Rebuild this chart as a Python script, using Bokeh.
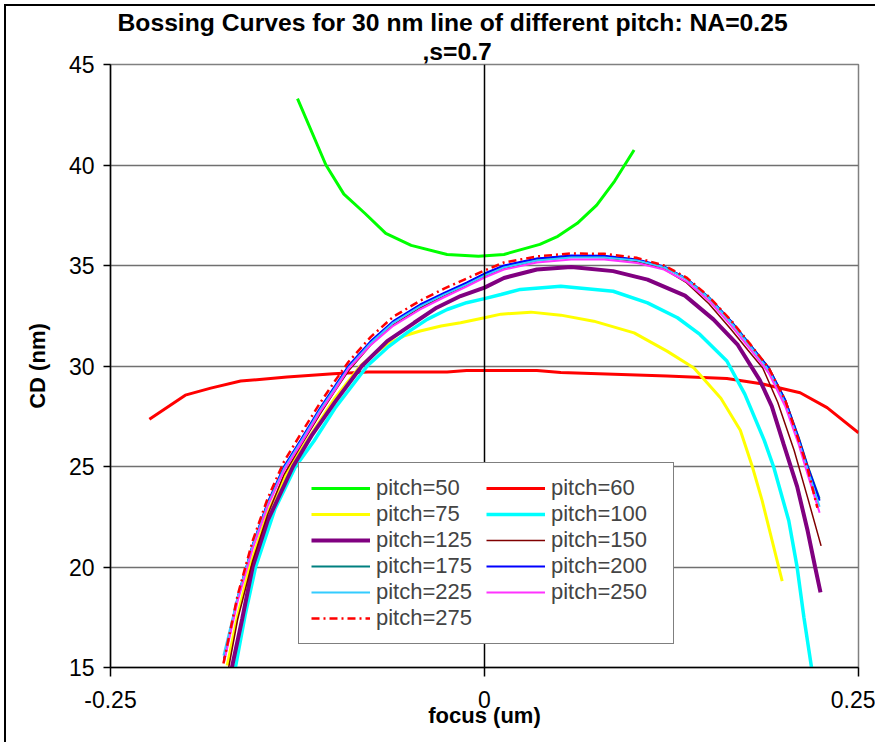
from bokeh.plotting import figure
from bokeh.models import Legend, LegendItem, Span, Title, FixedTicker, Range1d
from bokeh.embed import file_html
from bokeh.resources import INLINE

FONT = "Liberation Sans"

# ---------------- data ----------------
focus_50 = [-0.125, -0.106, -0.094, -0.080, -0.066, -0.049, -0.025, -0.004, 0.013, 0.037, 0.049, 0.062, 0.075, 0.087, 0.100]
cd_50 = [43.3, 40.0, 38.55, 37.6, 36.6, 36.0, 35.55, 35.46, 35.55, 36.05, 36.45, 37.1, 38.0, 39.2, 40.75]

focus_60 = [-0.224, -0.200, -0.183, -0.163, -0.132, -0.101, -0.078, -0.025, -0.012, 0.011, 0.035, 0.051, 0.122, 0.162, 0.185, 0.211, 0.229, 0.250]
cd_60 = [27.35, 28.55, 28.9, 29.25, 29.45, 29.62, 29.7, 29.7, 29.78, 29.78, 29.78, 29.68, 29.5, 29.38, 29.12, 28.67, 27.93, 26.68]

focus_75 = [-0.172, -0.165, -0.157, -0.145, -0.130, -0.115, -0.100, -0.083, -0.074, -0.065, -0.054, -0.043, -0.029, -0.016, 0.000, 0.011, 0.031, 0.051, 0.073, 0.100, 0.122, 0.140, 0.158, 0.171, 0.179, 0.1856, 0.1923, 0.199]
cd_75 = [15.1, 17.6, 20.0, 22.7, 25.0, 26.7, 28.4, 30.0, 30.58, 31.08, 31.49, 31.74, 31.99, 32.15, 32.4, 32.58, 32.68, 32.53, 32.23, 31.65, 30.74, 29.9, 28.4, 26.8, 25.0, 23.3, 21.3, 19.3]

focus_100 = [-0.1665, -0.160, -0.153, -0.140, -0.1263, -0.114, -0.100, -0.0784, -0.065, -0.0517, -0.0383, -0.025, -0.012, 0.000, 0.011, 0.024, 0.051, 0.086, 0.109, 0.129, 0.144, 0.162, 0.174, 0.187, 0.1934, 0.2034, 0.209, 0.2135, 0.2186]
cd_100 = [15.0, 17.6, 20.0, 22.9, 25.0, 26.27, 27.9, 30.0, 30.91, 31.66, 32.32, 32.81, 33.15, 33.35, 33.56, 33.81, 33.97, 33.72, 33.14, 32.4, 31.57, 30.25, 28.6, 26.3, 24.95, 22.3, 19.98, 17.5, 15.0]

focus_125 = [-0.170, -0.162, -0.155, -0.145, -0.128, -0.115, -0.100, -0.082, -0.065, -0.047, -0.032, -0.016, 0.000, 0.013, 0.035, 0.058, 0.086, 0.109, 0.134, 0.153, 0.169, 0.184, 0.192, 0.200, 0.209, 0.216, 0.221, 0.2246]
cd_125 = [14.6, 17.4, 20.0, 22.3, 25.0, 26.6, 28.2, 30.0, 31.24, 32.15, 32.9, 33.48, 33.9, 34.38, 34.8, 34.92, 34.72, 34.3, 33.5, 32.32, 31.08, 29.3, 28.0, 26.1, 24.0, 21.8, 20.0, 18.74]

focus_150 = [-0.171, -0.165, -0.155, -0.145, -0.134, -0.123, -0.110, -0.100, -0.091, -0.076, -0.061, -0.043, -0.027, -0.012, 0.000, 0.013, 0.035, 0.058, 0.080, 0.102, 0.120, 0.135, 0.150, 0.165, 0.176, 0.186, 0.196, 0.207, 0.216, 0.225]
cd_150 = [15.0, 17.4, 20.3, 22.6, 24.6, 26.0, 27.6, 28.75, 29.75, 31.05, 32.05, 32.9, 33.5, 34.0, 34.45, 34.85, 35.25, 35.42, 35.4, 35.2, 34.82, 34.15, 33.1, 31.8, 30.8, 29.9, 28.2, 25.8, 23.45, 21.05]

focus_175 = [-0.174, -0.165, -0.155, -0.145, -0.134, -0.123, -0.110, -0.100, -0.091, -0.076, -0.061, -0.043, -0.027, -0.012, 0.000, 0.013, 0.035, 0.058, 0.080, 0.102, 0.120, 0.135, 0.150, 0.165, 0.178, 0.190, 0.201, 0.210, 0.216, 0.224]
cd_175 = [15.4, 18.45, 21.05, 23.15, 24.95, 26.25, 27.85, 28.95, 29.95, 31.2, 32.2, 33.03, 33.6, 34.12, 34.57, 34.97, 35.33, 35.47, 35.45, 35.27, 34.93, 34.35, 33.42, 32.22, 31.02, 29.92, 28.32, 26.45, 25.05, 23.4]

focus_200 = [-0.174, -0.165, -0.155, -0.145, -0.134, -0.123, -0.110, -0.100, -0.091, -0.076, -0.061, -0.043, -0.027, -0.012, 0.000, 0.013, 0.035, 0.058, 0.080, 0.102, 0.120, 0.135, 0.150, 0.165, 0.178, 0.190, 0.201, 0.210, 0.216, 0.224]
cd_200 = [15.45, 18.5, 21.1, 23.2, 25.0, 26.3, 27.9, 29.0, 30.0, 31.24, 32.23, 33.06, 33.64, 34.15, 34.6, 35.0, 35.35, 35.5, 35.48, 35.3, 34.95, 34.35, 33.4, 32.2, 31.0, 29.9, 28.3, 26.4, 25.0, 23.3]

focus_225 = [-0.1745, -0.165, -0.155, -0.145, -0.134, -0.123, -0.110, -0.100, -0.091, -0.076, -0.061, -0.043, -0.027, -0.012, 0.000, 0.013, 0.035, 0.058, 0.080, 0.102, 0.120, 0.135, 0.150, 0.165, 0.178, 0.190, 0.201, 0.210, 0.216, 0.224]
cd_225 = [15.6, 18.5, 21.05, 23.1, 24.9, 26.2, 27.8, 28.9, 29.9, 31.15, 32.15, 32.97, 33.55, 34.05, 34.5, 34.9, 35.25, 35.4, 35.4, 35.25, 34.92, 34.32, 33.38, 32.15, 30.95, 29.8, 28.15, 26.25, 24.85, 23.0]

focus_250 = [-0.174, -0.165, -0.155, -0.145, -0.134, -0.123, -0.110, -0.100, -0.091, -0.076, -0.061, -0.043, -0.027, -0.012, 0.000, 0.013, 0.035, 0.058, 0.080, 0.102, 0.120, 0.135, 0.150, 0.165, 0.178, 0.190, 0.201, 0.210, 0.216, 0.224]
cd_250 = [15.3, 18.3, 20.9, 23.0, 24.8, 26.1, 27.7, 28.8, 29.85, 31.05, 32.0, 32.82, 33.42, 33.95, 34.4, 34.8, 35.15, 35.3, 35.3, 35.12, 34.8, 34.2, 33.25, 32.0, 30.8, 29.65, 28.0, 26.1, 24.6, 22.7]

focus_275 = [-0.1745, -0.165, -0.155, -0.145, -0.134, -0.123, -0.110, -0.100, -0.091, -0.076, -0.061, -0.043, -0.027, -0.012, 0.000, 0.013, 0.035, 0.058, 0.080, 0.102, 0.120, 0.135, 0.150, 0.165, 0.178, 0.190, 0.201, 0.210, 0.216, 0.2225]
cd_275 = [15.2, 18.6, 21.3, 23.4, 25.25, 26.6, 28.15, 29.25, 30.2, 31.45, 32.45, 33.25, 33.85, 34.35, 34.75, 35.15, 35.45, 35.6, 35.58, 35.38, 35.0, 34.4, 33.45, 32.25, 31.05, 29.9, 28.3, 26.3, 24.9, 22.95]

labels = ["pitch=50", "pitch=60", "pitch=75", "pitch=100", "pitch=125", "pitch=150",
          "pitch=175", "pitch=200", "pitch=225", "pitch=250", "pitch=275"]

x_ticks = [-0.25, 0, 0.25]
x_tick_labels = ["-0.25", "0", "0.25"]
y_ticks = [15, 20, 25, 30, 35, 40, 45]

title_line1 = "Bossing Curves for 30 nm line of different pitch: NA=0.25"
title_line2 = ",s=0.7"
x_title = "focus (um)"
y_title = "CD (nm)"

# ---------------- figure ----------------
# outer chart frame: 4px margin + 2px black border at left/top
p = figure(width=871, height=738, output_backend="svg", toolbar_location=None,
           x_range=Range1d(-0.25, 0.25), y_range=Range1d(15, 45), title=None,
           min_border_left=104, min_border_right=19, min_border_top=57, min_border_bottom=77)
p.margin = (4, 0, 0, 4)
p.styles = {"border-left": "2px solid black", "border-top": "2px solid black"}
p.background_fill_color = "white"
p.border_fill_color = "white"
p.outline_line_color = "#808080"
p.outline_line_width = 1.5

p.add_layout(Title(text=title_line2, align="left", offset=312,
                   text_font=FONT, text_font_style="bold", text_font_size="24.7px",
                   text_color="black", standoff=0, text_line_height=0.85), "above")
p.add_layout(Title(text=title_line1, align="left", offset=7,
                   text_font=FONT, text_font_style="bold", text_font_size="24.7px",
                   text_color="black", standoff=0, text_line_height=0.85), "above")

p.xgrid.visible = False
p.ygrid.ticker = FixedTicker(ticks=y_ticks)
p.ygrid.grid_line_color = "#707070"
p.ygrid.grid_line_width = 1.5

p.xaxis.ticker = FixedTicker(ticks=x_ticks)
p.xaxis.major_label_overrides = {t: s for t, s in zip(x_ticks, x_tick_labels)}
p.yaxis.ticker = FixedTicker(ticks=y_ticks)
for ax in (p.xaxis[0], p.yaxis[0]):
    ax.axis_line_color = "black"
    ax.axis_line_width = 1.5
    ax.major_tick_line_color = "black"
    ax.major_tick_line_width = 1.5
    ax.major_tick_in = 0
    ax.minor_tick_line_color = None
    ax.major_label_text_font = FONT
    ax.major_label_text_font_size = "23px"
    ax.major_label_text_color = "black"
    ax.axis_label_text_font = FONT
    ax.axis_label_text_font_style = "bold"
    ax.axis_label_text_font_size = "22px"
    ax.axis_label_text_color = "black"
p.xaxis.major_tick_out = 9
p.xaxis.major_label_standoff = 14
p.xaxis.axis_label = x_title
p.xaxis.axis_label_standoff = -8
p.yaxis.major_tick_out = 7
p.yaxis.major_label_standoff = 9
p.yaxis.axis_label = y_title
p.yaxis.axis_label_standoff = 16

styles = [
    (focus_50, cd_50, "#00FF00", 3, "solid"),
    (focus_60, cd_60, "#FF0000", 3, "solid"),
    (focus_75, cd_75, "#FFFF00", 3, "solid"),
    (focus_100, cd_100, "#00FFFF", 3.5, "solid"),
    (focus_125, cd_125, "#800080", 4, "solid"),
    (focus_150, cd_150, "#800000", 1.5, "solid"),
    (focus_175, cd_175, "#008080", 2, "solid"),
    (focus_200, cd_200, "#0000FF", 2, "solid"),
    (focus_225, cd_225, "#33CCFF", 2, "solid"),
    (focus_250, cd_250, "#FF33FF", 2, "solid"),
    (focus_275, cd_275, "#FF0000", 2.5, "8 4 2 4"),
]

renderers = []
for xs, ys, col, lw, dash in styles:
    r = p.line(xs, ys, line_color=col, line_width=lw, line_dash=dash)
    renderers.append(r)

# column-major order: left column, then right column
order = [0, 2, 4, 6, 8, 10, 1, 3, 5, 7, 9]
items = [LegendItem(label=labels[i], renderers=[renderers[i]]) for i in order]
legend = Legend(items=items, location=(188, 23), ncols=2,
                label_text_font=FONT, label_text_font_size="22px",
                glyph_width=59, glyph_height=20, label_height=20, label_width=110,
                label_standoff=6, spacing=0, padding=12, margin=0,
                border_line_color="black", border_line_width=1.5,
                background_fill_color="white", background_fill_alpha=1.0)
p.add_layout(legend, "center")

zero_line = Span(location=0, dimension="height", line_color="black", line_width=1.5, level="overlay")
p.add_layout(zero_line)

open("out.html", "w").write(file_html(p, INLINE))
